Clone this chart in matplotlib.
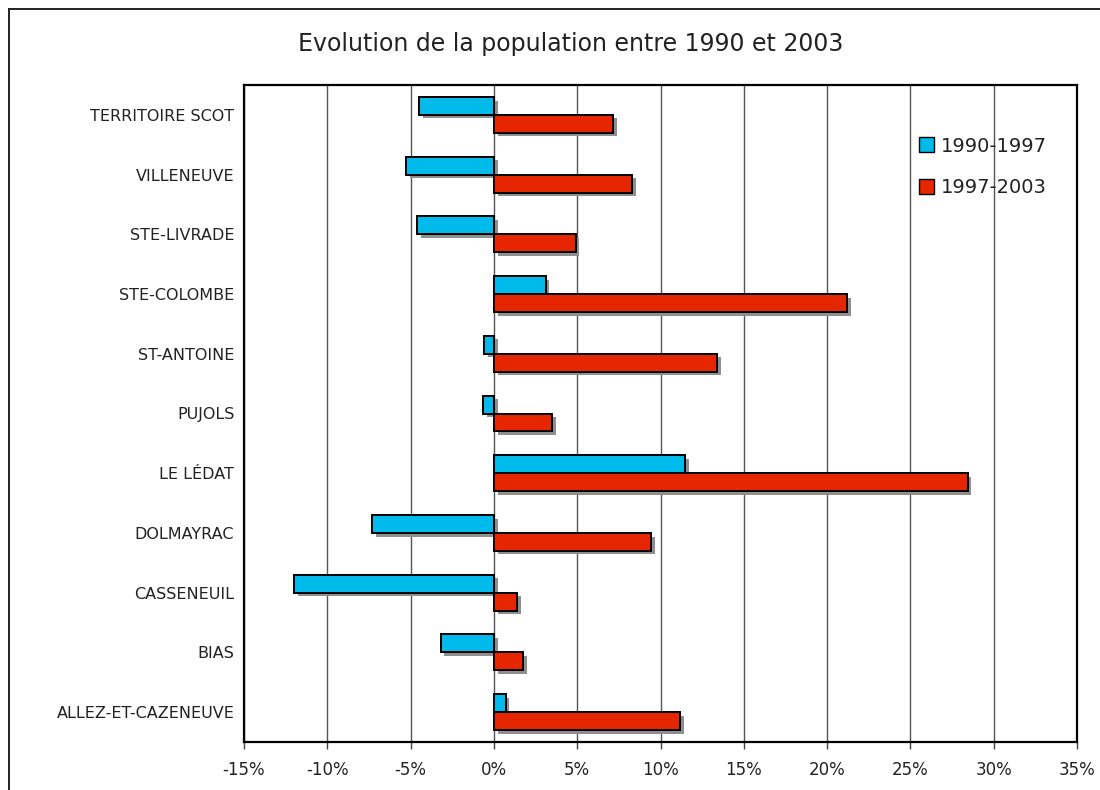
import matplotlib
matplotlib.use("Agg")
import matplotlib.pyplot as plt
import matplotlib.patheffects as pe
from matplotlib.lines import Line2D
from matplotlib.patches import Patch
import numpy as np

categories = ["TERRITOIRE SCOT", "VILLENEUVE", "STE-LIVRADE", "STE-COLOMBE",
              "ST-ANTOINE", "PUJOLS", "LE LÉDAT", "DOLMAYRAC", "CASSENEUIL",
              "BIAS", "ALLEZ-ET-CAZENEUVE"]
v_1990_1997 = [-4.5, -5.25, -4.6, 3.1, -0.6, -0.65, 11.5, -7.3, -12.0, -3.2, 0.7]
v_1997_2003 = [7.15, 8.3, 4.9, 21.2, 13.4, 3.5, 28.45, 9.45, 1.4, 1.75, 11.2]
series_labels = ["1990-1997", "1997-2003"]
xticks = [-15, -10, -5, 0, 5, 10, 15, 20, 25, 30, 35]
title = "Evolution de la population entre 1990 et 2003"

blue = "#00BAEC"
red = "#E52600"

plt.rcParams['font.family'] = ['DejaVu Sans']

fig = plt.figure(figsize=(11, 7.9), dpi=100)
ax = fig.add_axes([244/1100, 1-742/790, (1077-244)/1100, (742-85)/790])

y = np.arange(len(categories))
h = 0.3
shadow = [pe.SimplePatchShadow(offset=(2.6, -2.6), shadow_rgbFace='#8f8f8f', alpha=1.0), pe.Normal()]
b1 = ax.barh(y - h/2, v_1990_1997, height=h, color=blue, edgecolor='black', linewidth=1.4, zorder=3)
b2 = ax.barh(y + h/2, v_1997_2003, height=h, color=red, edgecolor='black', linewidth=1.4, zorder=3)
for b in list(b1) + list(b2):
    b.set_path_effects(shadow)

ax.set_ylim(len(categories) - 0.5, -0.5)
ax.set_xlim(-15, 35)
ax.set_xticks(xticks)
ax.set_xticklabels([f"{t}%" for t in xticks], fontsize=12, color='#222222')
ax.set_yticks(y)
ax.set_yticklabels(categories, fontsize=11.5, color='#222222')
ax.tick_params(axis='y', length=0, pad=7)
ax.tick_params(axis='x', length=5, width=1, direction='out', pad=9, color='#444444')
ax.xaxis.grid(True, color='#555555', linewidth=1.0, zorder=0)
ax.set_axisbelow(True)
for s in ax.spines.values():
    s.set_linewidth(1.6)
    s.set_color('black')

handles = [Patch(facecolor=blue, edgecolor='black', linewidth=1),
           Patch(facecolor=red, edgecolor='black', linewidth=1)]
leg = ax.legend(handles, series_labels, loc='upper left', bbox_to_anchor=(0.789, 0.948),
                frameon=False, fontsize=14, handlelength=0.8, handleheight=0.8,
                handletextpad=0.35, labelspacing=1.15)
for t in leg.get_texts():
    t.set_color('#222222')

fig.text(0.519, 1-44/790, title, ha='center', va='center', fontsize=17, color='#222222')

# outer frame (top and left)
fig.add_artist(Line2D([9/1100, 1.0], [1-9/790, 1-9/790], color='#222222', linewidth=1.4, transform=fig.transFigure))
fig.add_artist(Line2D([9/1100, 9/1100], [1-9/790, 0], color='#222222', linewidth=1.4, transform=fig.transFigure))

fig.savefig("out.png", dpi=100)
